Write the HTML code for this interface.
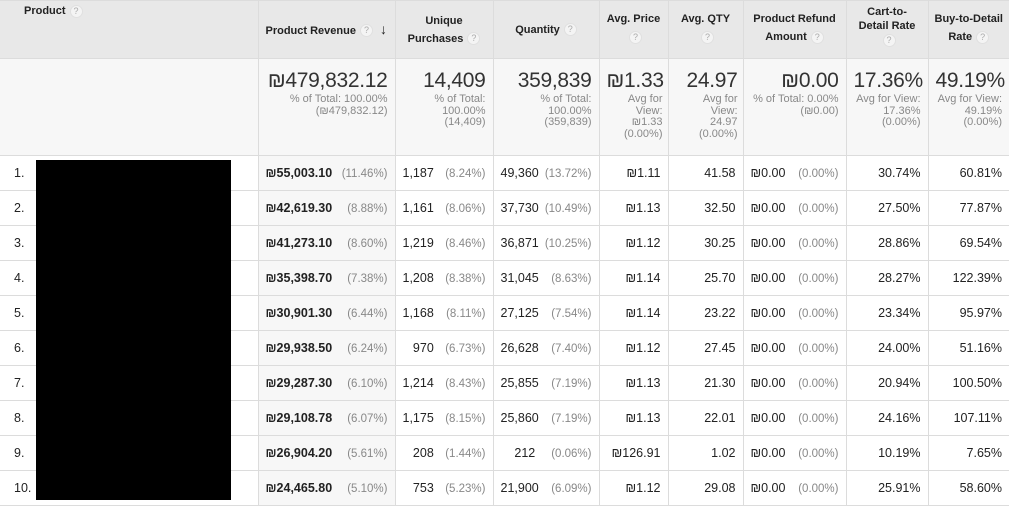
<!DOCTYPE html>
<html><head><meta charset="utf-8"><style>
*{box-sizing:border-box;margin:0;padding:0}
body{width:1009px;height:502px;overflow:hidden;background:#fff;font-family:"Liberation Sans",Arial,sans-serif;color:#222;position:relative}
table{border-collapse:collapse;table-layout:fixed;position:absolute;left:0;top:0;width:1009px}
td{border:1px solid #dcdcdc;font-size:12.5px;vertical-align:middle;padding:0 7px;white-space:nowrap}
td:first-child{border-left:none}
td:last-child{border-right:none}
tr.h td{background:#e8e8e8;height:58px;font-weight:bold;font-size:11px;text-align:center;line-height:18px;color:#222;padding:0 2px}
tr.s td{background:#f7f7f7;height:97px;vertical-align:top;text-align:right;padding-top:10px;font-size:11px;color:#888;line-height:11.5px}
tr.s td .b{font-size:21px;color:#333;line-height:24px;margin-bottom:1px;letter-spacing:-0.3px}
tr.d td{height:35px}
tr.d td.rv{background:#f7f7f7}
.q{display:inline-block;width:13px;height:13px;border-radius:50%;background:#f4f4f4;border:1px solid #e0e0e0;color:#aaa;font-size:9px;line-height:11px;text-align:center;font-weight:normal;vertical-align:middle;margin-left:4px}
.f{display:flex;justify-content:space-between;align-items:baseline}
.p{color:#888;font-size:11.5px}
.r{text-align:right}
</style></head><body>
<table>
<colgroup><col style="width:258px"><col style="width:137px"><col style="width:98px"><col style="width:106px"><col style="width:69px"><col style="width:75px"><col style="width:103px"><col style="width:82px"><col style="width:81px"></colgroup>
<tr class="h">
<td style="text-align:left;vertical-align:top;padding:1px 0 0 24px">Product<span class="q">?</span></td>
<td style="text-align:left;padding-left:7px">Product Revenue<span class="q">?</span> <span style="font-size:14px;margin-left:4px">↓</span></td>
<td>Unique<br>Purchases<span class="q">?</span></td>
<td>Quantity<span class="q">?</span></td>
<td style="vertical-align:top;padding-top:9px">Avg. Price<br><span class="q">?</span></td>
<td style="vertical-align:top;padding-top:9px">Avg. QTY<br><span class="q">?</span></td>
<td style="vertical-align:top;padding-top:9px">Product Refund<br>Amount<span class="q">?</span></td>
<td style="vertical-align:top;padding-top:4px;line-height:14px">Cart-to-<br>Detail Rate<br><span class="q">?</span></td>
<td style="vertical-align:top;padding-top:9px">Buy-to-Detail<br>Rate<span class="q">?</span></td>
</tr>
<tr class="s">
<td></td>
<td><div class="b">₪479,832.12</div>% of Total: 100.00%<br>(₪479,832.12)</td>
<td><div class="b">14,409</div>% of Total:<br>100.00%<br>(14,409)</td>
<td><div class="b">359,839</div>% of Total:<br>100.00%<br>(359,839)</td>
<td style="padding-right:5px"><div class="b">₪1.33</div>Avg for<br>View:<br>₪1.33<br>(0.00%)</td>
<td style="padding-right:5px"><div class="b">24.97</div>Avg for<br>View:<br>24.97<br>(0.00%)</td>
<td><div class="b">₪0.00</div>% of Total: 0.00%<br>(₪0.00)</td>
<td><div class="b">17.36%</div>Avg for View:<br>17.36%<br>(0.00%)</td>
<td><div class="b">49.19%</div>Avg for View:<br>49.19%<br>(0.00%)</td>
</tr>
<tr class="d"><td style="padding-left:14px">1.</td><td class="rv"><div class="f"><b>₪55,003.10</b><span class="p">(11.46%)</span></div></td><td><div class="f"><span>1,187</span><span class="p">(8.24%)</span></div></td><td><div class="f"><span>49,360</span><span class="p">(13.72%)</span></div></td><td class="r">₪1.11</td><td class="r">41.58</td><td><div class="f"><span>₪0.00</span><span class="p">(0.00%)</span></div></td><td class="r">30.74%</td><td class="r">60.81%</td></tr>
<tr class="d"><td style="padding-left:14px">2.</td><td class="rv"><div class="f"><b>₪42,619.30</b><span class="p">(8.88%)</span></div></td><td><div class="f"><span>1,161</span><span class="p">(8.06%)</span></div></td><td><div class="f"><span>37,730</span><span class="p">(10.49%)</span></div></td><td class="r">₪1.13</td><td class="r">32.50</td><td><div class="f"><span>₪0.00</span><span class="p">(0.00%)</span></div></td><td class="r">27.50%</td><td class="r">77.87%</td></tr>
<tr class="d"><td style="padding-left:14px">3.</td><td class="rv"><div class="f"><b>₪41,273.10</b><span class="p">(8.60%)</span></div></td><td><div class="f"><span>1,219</span><span class="p">(8.46%)</span></div></td><td><div class="f"><span>36,871</span><span class="p">(10.25%)</span></div></td><td class="r">₪1.12</td><td class="r">30.25</td><td><div class="f"><span>₪0.00</span><span class="p">(0.00%)</span></div></td><td class="r">28.86%</td><td class="r">69.54%</td></tr>
<tr class="d"><td style="padding-left:14px">4.</td><td class="rv"><div class="f"><b>₪35,398.70</b><span class="p">(7.38%)</span></div></td><td><div class="f"><span>1,208</span><span class="p">(8.38%)</span></div></td><td><div class="f"><span>31,045</span><span class="p">(8.63%)</span></div></td><td class="r">₪1.14</td><td class="r">25.70</td><td><div class="f"><span>₪0.00</span><span class="p">(0.00%)</span></div></td><td class="r">28.27%</td><td class="r">122.39%</td></tr>
<tr class="d"><td style="padding-left:14px">5.</td><td class="rv"><div class="f"><b>₪30,901.30</b><span class="p">(6.44%)</span></div></td><td><div class="f"><span>1,168</span><span class="p">(8.11%)</span></div></td><td><div class="f"><span>27,125</span><span class="p">(7.54%)</span></div></td><td class="r">₪1.14</td><td class="r">23.22</td><td><div class="f"><span>₪0.00</span><span class="p">(0.00%)</span></div></td><td class="r">23.34%</td><td class="r">95.97%</td></tr>
<tr class="d"><td style="padding-left:14px">6.</td><td class="rv"><div class="f"><b>₪29,938.50</b><span class="p">(6.24%)</span></div></td><td><div class="f"><span>&nbsp;&nbsp;&nbsp;970</span><span class="p">(6.73%)</span></div></td><td><div class="f"><span>26,628</span><span class="p">(7.40%)</span></div></td><td class="r">₪1.12</td><td class="r">27.45</td><td><div class="f"><span>₪0.00</span><span class="p">(0.00%)</span></div></td><td class="r">24.00%</td><td class="r">51.16%</td></tr>
<tr class="d"><td style="padding-left:14px">7.</td><td class="rv"><div class="f"><b>₪29,287.30</b><span class="p">(6.10%)</span></div></td><td><div class="f"><span>1,214</span><span class="p">(8.43%)</span></div></td><td><div class="f"><span>25,855</span><span class="p">(7.19%)</span></div></td><td class="r">₪1.13</td><td class="r">21.30</td><td><div class="f"><span>₪0.00</span><span class="p">(0.00%)</span></div></td><td class="r">20.94%</td><td class="r">100.50%</td></tr>
<tr class="d"><td style="padding-left:14px">8.</td><td class="rv"><div class="f"><b>₪29,108.78</b><span class="p">(6.07%)</span></div></td><td><div class="f"><span>1,175</span><span class="p">(8.15%)</span></div></td><td><div class="f"><span>25,860</span><span class="p">(7.19%)</span></div></td><td class="r">₪1.13</td><td class="r">22.01</td><td><div class="f"><span>₪0.00</span><span class="p">(0.00%)</span></div></td><td class="r">24.16%</td><td class="r">107.11%</td></tr>
<tr class="d"><td style="padding-left:14px">9.</td><td class="rv"><div class="f"><b>₪26,904.20</b><span class="p">(5.61%)</span></div></td><td><div class="f"><span>&nbsp;&nbsp;&nbsp;208</span><span class="p">(1.44%)</span></div></td><td><div class="f"><span>&nbsp;&nbsp;&nbsp;&nbsp;212</span><span class="p">(0.06%)</span></div></td><td class="r">₪126.91</td><td class="r">1.02</td><td><div class="f"><span>₪0.00</span><span class="p">(0.00%)</span></div></td><td class="r">10.19%</td><td class="r">7.65%</td></tr>
<tr class="d"><td style="padding-left:14px">10.</td><td class="rv"><div class="f"><b>₪24,465.80</b><span class="p">(5.10%)</span></div></td><td><div class="f"><span>&nbsp;&nbsp;&nbsp;753</span><span class="p">(5.23%)</span></div></td><td><div class="f"><span>21,900</span><span class="p">(6.09%)</span></div></td><td class="r">₪1.12</td><td class="r">29.08</td><td><div class="f"><span>₪0.00</span><span class="p">(0.00%)</span></div></td><td class="r">25.91%</td><td class="r">58.60%</td></tr>
</table>
<div style="position:absolute;left:36px;top:160px;width:195px;height:340px;background:#000"></div>
</body></html>
